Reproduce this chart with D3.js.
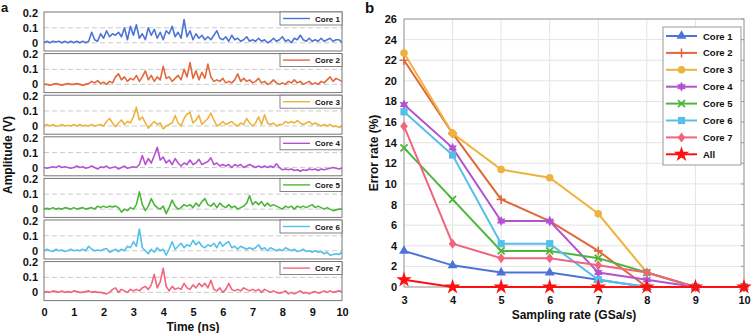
<html>
<head>
<meta charset="utf-8" />
<title>Core signals and error rate</title>
<script src="https://cdn.jsdelivr.net/npm/d3@7"></script>
<style>
  body { margin: 0; background: #fff; }
  text { font-family: "Liberation Sans", Arial, Helvetica, sans-serif; font-weight: bold; fill: #111; }
</style>
</head>
<body>
<script>

// ---------- data ----------
var coreNames = ["Core 1", "Core 2", "Core 3", "Core 4", "Core 5", "Core 6", "Core 7"];
var coreColors = ["#4c74d8", "#e2683c", "#eeb33c", "#b452d2", "#4db53b", "#55bfea", "#f1647d"];
var allColor = "#ff1010";

// panel a : amplitude (V), one sample every 0.1 ns from 0 to 10 ns
var sampleStep = 0.1;
var timeTicks = [0, 1, 2, 3, 4, 5, 6, 7, 8, 9, 10];
var ampTicks = [0, 0.1, 0.2];

var core1Amp = [
  0.00,0.01,0.00,0.01,0.005,0.01,0.00,0.01,0.00,0.01,
  0.00,0.01,0.00,0.01,0.00,0.01,0.07,0.02,0.01,0.06,
  0.03,0.08,0.04,0.06,0.05,0.07,0.04,0.10,0.02,0.11,
  0.05,0.12,0.03,0.06,0.02,0.10,0.05,0.09,0.03,0.07,
  0.02,0.08,0.06,0.11,0.04,0.07,0.03,0.155,0.04,0.08,
  0.02,0.06,0.03,0.05,0.02,0.04,0.02,0.05,0.08,0.03,
  0.02,0.04,0.01,0.05,0.02,0.03,0.01,0.02,0.04,0.01,
  0.02,0.01,0.03,0.01,0.02,0.00,0.01,0.03,0.01,0.02,
  0.04,0.01,0.02,0.00,0.03,0.02,0.05,0.02,0.01,0.03,
  0.01,0.02,0.01,0.03,0.01,0.02,0.03,0.01,0.02,0.02,
  0.00];
var core2Amp = [
  0.00,0.00,-0.005,0.00,0.005,0.00,-0.005,0.00,0.005,0.00,
  0.00,0.005,0.00,-0.005,0.00,0.005,0.02,0.01,0.025,0.005,
  0.015,0.00,0.02,0.01,0.05,0.07,0.03,0.05,0.02,0.04,
  0.03,0.06,0.02,0.05,0.09,0.03,0.06,0.02,0.05,0.03,
  0.12,0.04,0.05,0.02,0.04,0.06,0.03,0.10,0.05,0.145,
  0.04,0.09,0.03,0.08,0.04,0.135,0.05,0.02,0.03,0.02,
  0.04,0.01,0.02,0.01,0.03,0.07,0.02,0.04,0.02,0.03,
  0.01,0.02,0.04,0.01,0.02,0.00,0.01,0.03,0.01,0.00,
  0.01,0.00,0.02,0.01,0.03,0.01,0.02,0.00,0.01,0.02,
  0.00,0.01,0.00,0.02,0.01,0.03,0.05,0.02,0.04,0.03,
  0.02];
var core3Amp = [
  0.00,0.01,0.00,0.01,0.00,0.00,0.01,0.00,0.005,0.00,
  0.01,0.00,0.01,0.00,0.005,0.00,0.01,0.00,0.005,0.01,
  0.00,0.03,0.05,0.02,-0.005,0.02,0.04,0.01,0.03,0.02,
  0.06,0.125,0.04,0.06,0.02,-0.015,0.01,0.03,0.01,0.02,
  -0.02,0.00,0.01,0.02,0.07,0.02,0.00,0.05,0.08,0.09,
  0.02,0.04,0.07,0.01,0.03,0.05,0.085,0.04,0.00,0.01,
  0.03,0.01,0.02,0.03,0.01,0.00,0.02,0.01,0.05,0.02,
  0.00,0.02,0.06,0.01,0.075,0.02,0.01,0.02,0.00,0.01,
  0.01,0.03,0.02,0.03,0.02,0.035,0.02,0.01,0.02,0.03,
  0.01,0.02,0.01,0.00,0.01,0.00,0.01,-0.005,0.00,-0.01,
  0.00];
var core4Amp = [
  0.00,-0.005,0.00,0.005,0.00,0.01,0.00,0.005,0.00,-0.005,
  0.00,0.01,0.00,0.005,-0.005,0.00,0.01,0.00,-0.01,0.005,
  0.00,0.01,-0.005,0.00,0.005,-0.01,0.00,0.01,-0.005,0.00,
  0.005,0.00,0.02,0.08,0.02,0.06,0.03,0.08,0.135,0.05,
  0.07,0.03,0.05,0.02,0.06,0.03,0.01,0.03,0.02,0.05,
  0.02,0.03,0.055,0.02,0.03,0.04,0.065,0.02,0.03,0.01,
  0.02,0.01,0.02,0.00,0.02,0.01,0.02,0.00,0.01,0.02,
  0.01,0.00,0.01,0.00,0.01,0.00,0.01,0.00,0.025,0.00,
  -0.015,-0.01,-0.015,-0.01,-0.02,-0.015,-0.025,-0.015,-0.02,-0.01,
  -0.015,-0.01,-0.02,-0.01,-0.015,-0.01,-0.005,0.00,-0.005,-0.01,
  -0.005];
var core5Amp = [
  0.00,0.005,0.00,0.01,0.00,0.005,0.00,0.01,0.005,0.00,
  0.01,0.00,0.005,0.01,0.00,0.005,0.01,0.00,0.02,0.01,
  0.02,0.01,0.02,0.015,0.02,0.01,-0.02,0.00,-0.01,0.01,
  0.00,0.03,0.115,0.03,-0.01,0.02,0.07,0.03,0.01,0.00,
  0.02,-0.03,0.01,0.06,0.02,0.00,0.01,0.03,0.02,0.03,
  0.01,0.04,0.02,0.05,0.07,0.03,0.02,0.04,0.01,0.04,
  0.02,0.01,0.03,0.01,0.02,0.00,0.01,0.02,0.04,0.09,
  0.03,0.05,0.03,0.05,0.02,0.04,0.02,0.03,0.02,0.01,
  0.00,0.02,0.01,0.02,0.00,0.02,0.01,0.02,0.01,0.02,
  0.03,0.01,0.02,0.01,0.00,0.01,0.00,-0.01,-0.005,0.00,
  0.00];
var core6Amp = [
  0.00,0.01,0.00,-0.005,0.01,0.00,0.005,-0.005,0.00,0.01,
  0.00,0.005,0.00,0.01,0.00,0.03,0.01,0.00,0.005,0.00,
  0.01,0.015,-0.01,0.00,0.01,-0.005,0.01,0.00,0.03,0.02,
  0.06,0.03,0.145,0.02,0.00,-0.02,0.01,-0.01,0.02,0.00,
  0.01,-0.03,0.01,0.06,0.01,0.03,0.05,0.02,0.04,0.03,
  0.07,0.04,0.06,0.03,0.02,0.04,0.03,0.05,0.02,0.06,
  0.03,0.05,0.06,0.02,0.03,0.01,0.03,0.02,0.01,0.02,
  0.01,0.02,0.04,0.01,0.02,0.00,0.02,0.01,0.00,0.01,
  0.00,0.02,0.01,0.00,0.01,-0.005,0.00,0.01,-0.005,0.00,
  -0.01,0.00,-0.01,-0.005,-0.02,-0.01,-0.03,-0.025,-0.02,-0.025,
  -0.01];
var core7Amp = [
  0.00,0.005,0.00,0.01,0.005,0.00,0.01,0.00,0.005,0.00,
  0.01,0.005,0.00,0.00,0.005,0.01,0.00,0.005,0.00,0.00,
  -0.005,-0.01,0.00,0.02,0.03,0.00,0.02,0.01,0.00,0.02,
  0.01,0.02,0.01,0.03,0.04,0.02,0.05,0.12,0.03,0.07,
  0.16,0.04,0.01,0.04,0.02,0.03,0.02,0.06,0.03,0.02,
  0.05,0.03,0.06,0.04,0.06,0.03,0.08,0.02,0.01,0.03,
  0.00,0.02,0.06,0.02,0.01,0.02,0.01,0.03,0.02,0.01,
  0.02,0.01,0.02,0.00,0.02,0.01,0.00,0.01,0.00,-0.005,
  0.00,0.01,-0.01,0.00,-0.01,0.00,0.01,-0.005,0.00,-0.01,
  0.00,0.005,-0.005,0.00,0.01,0.00,0.01,0.00,0.005,0.01,
  0.005];
var coreAmps = [core1Amp, core2Amp, core3Amp, core4Amp, core5Amp, core6Amp, core7Amp];

// panel b : error rate (%) vs sampling rate (GSa/s)
var samplingRates = [3, 4, 5, 6, 7, 8, 9, 10];
var errorTicks = [0, 2, 4, 6, 8, 10, 12, 14, 16, 18, 20, 22, 24, 26];
var errCore1 = [3.5, 2.1, 1.4, 1.4, 0.7, 0, 0, 0];
var errCore2 = [22.0, 14.9, 8.5, 6.4, 3.5, 0, 0, 0];
var errCore3 = [22.7, 14.9, 11.4, 10.6, 7.1, 1.4, 0, 0];
var errCore4 = [17.7, 13.5, 6.4, 6.4, 1.4, 0.7, 0, 0];
var errCore5 = [13.5, 8.5, 3.5, 3.5, 2.8, 1.4, 0, 0];
var errCore6 = [17.0, 12.8, 4.2, 4.2, 0.7, 0, 0, 0];
var errCore7 = [15.6, 4.2, 2.8, 2.8, 2.1, 1.4, 0, 0];
var errAll = [0.7, 0, 0, 0, 0, 0, 0, 0];
var errSeries = [
  {name: "Core 1", values: errCore1, color: coreColors[0], marker: "triangle"},
  {name: "Core 2", values: errCore2, color: coreColors[1], marker: "plus"},
  {name: "Core 3", values: errCore3, color: coreColors[2], marker: "circle"},
  {name: "Core 4", values: errCore4, color: coreColors[3], marker: "hexagram"},
  {name: "Core 5", values: errCore5, color: coreColors[4], marker: "times"},
  {name: "Core 6", values: errCore6, color: coreColors[5], marker: "square"},
  {name: "Core 7", values: errCore7, color: coreColors[6], marker: "diamond"},
  {name: "All", values: errAll, color: allColor, marker: "star"}
];

// ---------- svg ----------
var W = 756, H = 333;
var svg = d3.select("body").append("svg").attr("width", W).attr("height", H);

// ================= panel a =================
var aLeft = 44, aRight = 342, aTop = 12, panelH = 39, panelStep = 41.6;
var xA = d3.scaleLinear().domain([0, 10]).range([aLeft, aRight]);

coreAmps.forEach(function(vals, i) {
  var top = aTop + i * panelStep;
  var yA = d3.scaleLinear().domain([-0.055, 0.205]).range([top + panelH, top]);
  var g = svg.append("g");

  g.append("rect").attr("x", aLeft).attr("y", top).attr("width", aRight - aLeft).attr("height", panelH)
    .attr("fill", "#fff");

  g.selectAll("line.grid").data([0, 0.1]).enter().append("line")
    .attr("x1", aLeft).attr("x2", aRight)
    .attr("y1", d => yA(d)).attr("y2", d => yA(d))
    .attr("stroke", "#c4c4c4").attr("stroke-width", 0.9).attr("stroke-dasharray", "5,3");

  var clipId = "clipA" + i;
  svg.append("clipPath").attr("id", clipId).append("rect")
    .attr("x", aLeft).attr("y", top).attr("width", aRight - aLeft).attr("height", panelH);

  var line = d3.line()
    .x((d, k) => xA(k * sampleStep))
    .y(d => yA(d));
  g.append("path").datum(vals)
    .attr("clip-path", "url(#" + clipId + ")")
    .attr("fill", "none").attr("stroke", coreColors[i]).attr("stroke-width", 1.6)
    .attr("stroke-linejoin", "round")
    .attr("d", line);

  g.append("rect").attr("x", aLeft).attr("y", top).attr("width", aRight - aLeft).attr("height", panelH)
    .attr("fill", "none").attr("stroke", "#777").attr("stroke-width", 1);

  // y tick labels
  g.selectAll("text.yt").data(ampTicks).enter().append("text")
    .attr("x", 38).attr("y", d => yA(d) + 4)
    .attr("text-anchor", "end").attr("font-size", 11)
    .text(d => d === 0 ? "0" : d3.format(".1f")(d));

  // legend
  var lg = g.append("g").attr("transform", "translate(280," + top + ")");
  lg.append("rect").attr("width", 62).attr("height", 13).attr("fill", "#fff")
    .attr("stroke", "#666").attr("stroke-width", 0.8);
  lg.append("line").attr("x1", 3).attr("x2", 30).attr("y1", 6.5).attr("y2", 6.5)
    .attr("stroke", coreColors[i]).attr("stroke-width", 1.4);
  lg.append("text").attr("x", 35).attr("y", 9.5).attr("font-size", 8).text(coreNames[i]);
});

var aBottom = aTop + 6 * panelStep + panelH;
svg.append("g").attr("transform", "translate(0," + aBottom + ")")
  .call(d3.axisBottom(xA).tickValues(timeTicks).tickSize(0).tickPadding(8).tickFormat(d3.format("d")))
  .call(g => g.select(".domain").remove())
  .call(g => g.selectAll("text").attr("font-size", 11).attr("font-family", null).attr("fill", "#111"));

svg.append("text").attr("x", (aLeft + aRight) / 2).attr("y", 331)
  .attr("text-anchor", "middle").attr("font-size", 12).text("Time (ns)");
svg.append("text").attr("transform", "translate(12,155) rotate(-90)")
  .attr("text-anchor", "middle").attr("font-size", 12).text("Amplitude (V)");
svg.append("text").attr("x", 1).attr("y", 12).attr("font-size", 13).text("a");

// ================= panel b =================
var bLeft = 404, bRight = 744, bTop = 19, bBottom = 287;
var xB = d3.scaleLinear().domain([3, 10]).range([bLeft, bRight]);
var yB = d3.scaleLinear().domain([0, 26]).range([bBottom, bTop]);

var gb = svg.append("g");
gb.selectAll("line.gx").data(samplingRates).enter().append("line")
  .attr("x1", d => xB(d)).attr("x2", d => xB(d)).attr("y1", bTop).attr("y2", bBottom)
  .attr("stroke", "#e4e4e4").attr("stroke-width", 1);
gb.selectAll("line.gy").data(errorTicks).enter().append("line")
  .attr("x1", bLeft).attr("x2", bRight).attr("y1", d => yB(d)).attr("y2", d => yB(d))
  .attr("stroke", "#e4e4e4").attr("stroke-width", 1);
gb.append("rect").attr("x", bLeft).attr("y", bTop).attr("width", bRight - bLeft).attr("height", bBottom - bTop)
  .attr("fill", "none").attr("stroke", "#9a9a9a").attr("stroke-width", 1);
// right-side inner ticks
gb.selectAll("line.rt").data(errorTicks).enter().append("line")
  .attr("x1", bRight - 3).attr("x2", bRight).attr("y1", d => yB(d)).attr("y2", d => yB(d))
  .attr("stroke", "#9a9a9a");

gb.append("g").attr("transform", "translate(" + bLeft + ",0)")
  .call(d3.axisLeft(yB).tickValues(errorTicks).tickSize(0).tickPadding(7))
  .call(g => g.select(".domain").remove())
  .call(g => g.selectAll("text").attr("font-size", 11).attr("font-family", null).attr("fill", "#111"));
gb.append("g").attr("transform", "translate(0," + bBottom + ")")
  .call(d3.axisBottom(xB).tickValues(samplingRates).tickSize(0).tickPadding(9).tickFormat(d3.format("d")))
  .call(g => g.select(".domain").remove())
  .call(g => g.selectAll("text").attr("font-size", 11).attr("font-family", null).attr("fill", "#111"));

function hexagramPath(r) {
  var pts = [];
  for (var k = 0; k < 12; k++) {
    var a = Math.PI / 6 * k - Math.PI / 2;
    var rr = k % 2 === 0 ? r : r * 0.55;
    pts.push([rr * Math.cos(a), rr * Math.sin(a)]);
  }
  return "M" + pts.map(p => p[0].toFixed(2) + "," + p[1].toFixed(2)).join("L") + "Z";
}

function drawMarker(sel, type, color) {
  if (type === "triangle") {
    sel.append("path").attr("d", d3.symbol(d3.symbolTriangle, 42)()).attr("fill", color);
  } else if (type === "plus") {
    sel.append("path").attr("d", "M-4.5,0H4.5M0,-4.5V4.5").attr("stroke", color).attr("stroke-width", 1.6);
  } else if (type === "circle") {
    sel.append("circle").attr("r", 3.8).attr("fill", color);
  } else if (type === "hexagram") {
    sel.append("path").attr("d", hexagramPath(5)).attr("fill", color);
  } else if (type === "times") {
    sel.append("path").attr("d", "M-3.5,-3.5L3.5,3.5M-3.5,3.5L3.5,-3.5").attr("stroke", color).attr("stroke-width", 1.8);
  } else if (type === "square") {
    sel.append("rect").attr("x", -3.6).attr("y", -3.6).attr("width", 7.2).attr("height", 7.2).attr("fill", color);
  } else if (type === "diamond") {
    sel.append("path").attr("d", "M0,-5L3.8,0L0,5L-3.8,0Z").attr("fill", color);
  } else if (type === "star") {
    sel.append("path").attr("d", d3.symbol(d3.symbolStar, 75)()).attr("fill", color);
  }
}

var lineB = d3.line().x((d, k) => xB(samplingRates[k])).y(d => yB(d));
errSeries.forEach(function(s) {
  gb.append("path").datum(s.values)
    .attr("fill", "none").attr("stroke", s.color).attr("stroke-width", 2)
    .attr("d", lineB);
  s.values.forEach(function(v, k) {
    var m = gb.append("g").attr("transform", "translate(" + xB(samplingRates[k]) + "," + yB(v) + ")");
    drawMarker(m, s.marker, s.color);
  });
});

// legend b
var lgb = svg.append("g").attr("transform", "translate(663,27)");
lgb.append("rect").attr("width", 78).attr("height", 138).attr("fill", "#fff")
  .attr("stroke", "#999").attr("stroke-width", 1);
errSeries.forEach(function(s, i) {
  var yy = 9 + i * 16.9;
  lgb.append("line").attr("x1", 3).attr("x2", 34).attr("y1", yy).attr("y2", yy)
    .attr("stroke", s.color).attr("stroke-width", 2);
  var m = lgb.append("g").attr("transform", "translate(18.5," + yy + ")");
  drawMarker(m, s.marker, s.color);
  lgb.append("text").attr("x", 40).attr("y", yy + 3.5).attr("font-size", 9.5).text(s.name);
});

svg.append("text").attr("x", (bLeft + bRight) / 2).attr("y", 319)
  .attr("text-anchor", "middle").attr("font-size", 12).text("Sampling rate (GSa/s)");
svg.append("text").attr("transform", "translate(378,153) rotate(-90)")
  .attr("text-anchor", "middle").attr("font-size", 12).text("Error rate (%)");
svg.append("text").attr("x", 365).attr("y", 13).attr("font-size", 15).text("b");

</script>
</body>
</html>
